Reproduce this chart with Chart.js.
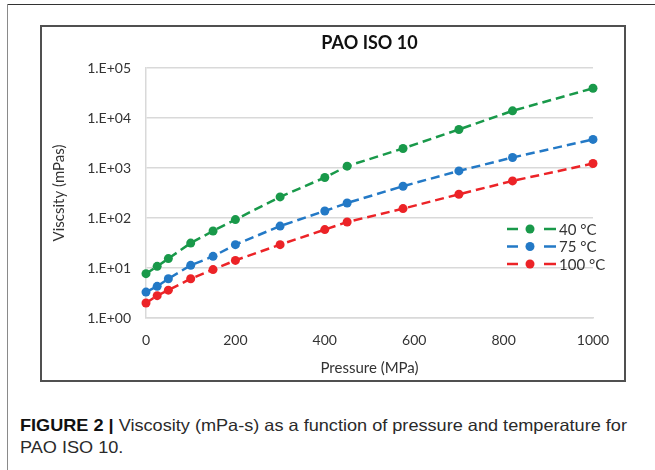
<!DOCTYPE html>
<html><head><meta charset="utf-8">
<script src="https://cdn.jsdelivr.net/npm/chart.js@4/dist/chart.umd.min.js"></script>
<style>
html,body{margin:0;padding:0;background:#fff;}
body{width:655px;height:470px;position:relative;overflow:hidden;}
#frameTop{position:absolute;left:7px;top:4px;width:648px;height:0;border-top:1px solid #333;}
#frameLeft{position:absolute;left:7px;top:4px;width:0;height:466px;border-left:1px solid #8a8a8a;}
#box{position:absolute;left:40px;top:25px;width:582px;height:353px;border:2px solid #505050;}
#box canvas{display:block;}
#caption{position:absolute;left:20px;top:414px;font-family:'Liberation Sans',Arial,sans-serif;font-size:16.5px;line-height:22px;color:#2a2a2a;white-space:nowrap;transform-origin:0 0;}
#caption b{color:#111;}
</style></head>
<body>
<div id="frameTop"></div><div id="frameLeft"></div>
<div id="box"><canvas id="c" width="582" height="353"></canvas></div>
<div id="caption"><span id="l1"><b>FIGURE 2 |</b> Viscosity (mPa-s) as a function of pressure and temperature for</span><br><span id="l2">PAO ISO 10.</span></div>
<script>
// ---- data ----
const chartTitle = 'PAO ISO 10';
const pressures = [0, 25, 50, 100, 150, 200, 300, 400, 450, 575, 700, 820, 1000];
const visc40 = [7.7, 10.8, 15.4, 31.5, 55, 93, 264, 645, 1090, 2460, 5900, 13900, 39300];
const visc75 = [3.3, 4.3, 6.1, 11.3, 17.1, 29.3, 69, 138, 200, 432, 875, 1620, 3730];
const visc100 = [2.0, 2.8, 3.6, 6.1, 9.3, 14.2, 29.3, 58.6, 83, 154, 298, 551, 1230];
const seriesNames = ['40 °C', '75 °C', '100 °C'];
const xTicks = [0, 200, 400, 600, 800, 1000];
const yTicks = [1, 10, 100, 1000, 10000, 100000];
const yTickLabels = ['1.E+00', '1.E+01', '1.E+02', '1.E+03', '1.E+04', '1.E+05'];
const xTitle = 'Pressure (MPa)';
const yTitle = 'Viscsity (mPas)';

const colors = ['#19994a', '#2379c6', '#ec2327'];
const seriesValues = [visc40, visc75, visc100];
const FONT = "Lato, 'Open Sans', sans-serif";
const TXT = '#333333';

const datasets = seriesValues.map((vals, i) => ({
  label: seriesNames[i],
  data: pressures.map((p, j) => ({x: p, y: vals[j]})),
  borderColor: colors[i],
  backgroundColor: colors[i],
  borderWidth: 2.5,
  borderDash: [9, 5],
  pointRadius: 4.5,
  pointBorderWidth: 0,
  pointBackgroundColor: colors[i],
  tension: 0,
  clip: false
}));

const overlay = {
  id: 'overlay',
  afterDraw(chart) {
    const ctx = chart.ctx, ca = chart.chartArea;
    ctx.save();
    ctx.fillStyle = '#111';
    ctx.font = 'bold 18px ' + FONT;
    ctx.textAlign = 'center';
    ctx.textBaseline = 'middle';
    ctx.fillText(chartTitle, (ca.left + ca.right) / 2, 16);
    const rowY = [202, 219.5, 237];
    chart.data.datasets.forEach((ds, i) => {
      const y = rowY[i];
      ctx.strokeStyle = ds.borderColor;
      ctx.lineWidth = 2.5;
      ctx.setLineDash([]);
      ctx.beginPath();
      ctx.moveTo(465, y); ctx.lineTo(476, y);
      ctx.moveTo(502, y); ctx.lineTo(514, y);
      ctx.stroke();
      ctx.fillStyle = ds.borderColor;
      ctx.beginPath();
      ctx.arc(488, y, 4.5, 0, Math.PI * 2);
      ctx.fill();
      ctx.fillStyle = TXT;
      ctx.font = '15px ' + FONT;
      ctx.textAlign = 'left';
      ctx.fillText(ds.label, 517, y + 1);
    });
    ctx.restore();
  }
};

new Chart(document.getElementById('c'), {
  type: 'line',
  data: {datasets},
  options: {
    responsive: false,
    animation: false,
    devicePixelRatio: 1,
    layout: {padding: {left: 0, top: 41, right: 31, bottom: 0}},
    plugins: {legend: {display: false}, title: {display: false}, tooltip: {enabled: false}},
    scales: {
      x: {
        type: 'linear', min: 0, max: 1000,
        afterBuildTicks: s => { s.ticks = xTicks.map(v => ({value: v})); },
        afterFit: s => { s.height = 62; },
        grid: {display: false, drawTicks: false},
        border: {display: true, color: '#d9d9d9', width: 1.5},
        ticks: {padding: 14, color: TXT, font: {family: FONT, size: 14}, maxRotation: 0, callback: v => String(v)},
        title: {display: true, text: xTitle, color: TXT, font: {family: FONT, size: 15}, padding: {top: 0, bottom: 3}}
      },
      y: {
        type: 'logarithmic', min: 1, max: 100000,
        afterBuildTicks: s => { s.ticks = yTicks.map(v => ({value: v})); },
        afterFit: s => { s.width = 104; },
        grid: {color: '#d9d9d9', lineWidth: 1.5, drawTicks: false},
        border: {display: true, color: '#d9d9d9', width: 1.5},
        ticks: {padding: 15, color: TXT, font: {family: FONT, size: 14}, callback: v => yTickLabels[yTicks.indexOf(v)]},
        title: {display: true, text: yTitle, color: TXT, font: {family: FONT, size: 15}, padding: {top: 8, bottom: 0}}
      }
    }
  },
  plugins: [overlay]
});

// squeeze the caption horizontally to the reference's condensed width
(function fit() {
  const l1 = document.getElementById('l1');
  const target = 607;
  const w = l1.getBoundingClientRect().width;
  document.getElementById('caption').style.transform = 'scaleX(' + (target / w).toFixed(4) + ')';
})();
</script>
</body></html>
